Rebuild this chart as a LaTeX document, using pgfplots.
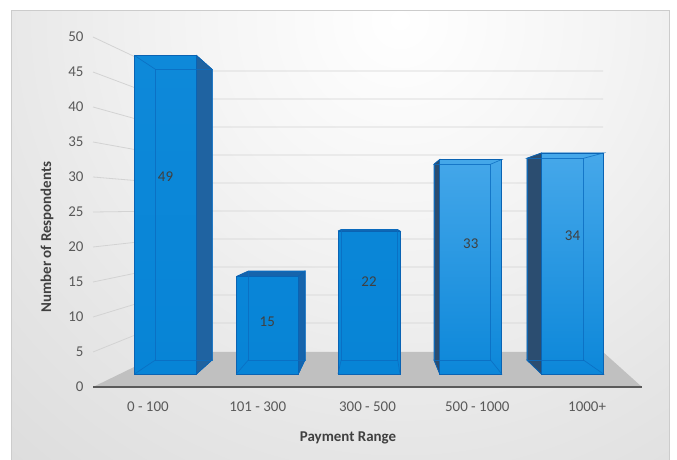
\documentclass[border=0pt]{standalone}
\usepackage{fontspec}
\setmainfont{Carlito}
\usepackage{pgfplots}
\pgfplotsset{compat=1.18}
\definecolor{bgin}{HTML}{F5F5F5}
\definecolor{bgmid}{HTML}{E7E7E7}
\definecolor{bgout1}{HTML}{DBDBDB}
\definecolor{bgout2}{HTML}{D0D0D0}
\definecolor{bordergray}{HTML}{CCCCCC}
\definecolor{floorgray}{HTML}{C0C0C0}
\definecolor{gridc}{HTML}{D3D3D3}
\definecolor{axisc}{HTML}{5A5A5A}
\definecolor{tickc}{HTML}{595959}
\definecolor{titlec}{HTML}{404040}
\definecolor{edgec}{HTML}{0A63B3}
\definecolor{backedge}{HTML}{0B6CC0}
\definecolor{barA}{HTML}{0784D6}
\definecolor{barAtop}{HTML}{0E89D9}
\definecolor{barBtop}{HTML}{46A8EA}
\definecolor{barBbot}{HTML}{0C87D9}
\definecolor{sideA}{HTML}{1F63A1}
\definecolor{sideB}{HTML}{1664AC}
\definecolor{sideC}{HTML}{2B4D70}
\pgfdeclareradialshading{bgshade}{\pgfpoint{0bp}{0bp}}{color(0bp)=(white); color(8bp)=(bgin); color(17bp)=(bgmid); color(26bp)=(bgout1); color(35bp)=(bgout2); color(50bp)=(bgout2)}
\newcommand\cf{\fontsize{15}{18}\selectfont}
\begin{document}
\begin{tikzpicture}
\path[use as bounding box, fill=white] (0bp,0bp) rectangle (677bp,460bp);
\begin{scope}
\clip (11bp,0bp) rectangle (669bp,449bp);
\shade[shading=bgshade] (400bp,440bp) circle (600bp);
\end{scope}
\draw[bordergray, line width=1bp] (11bp,-2bp) -- (11bp,449bp) -- (669bp,449bp) -- (669bp,-2bp);

% main axis: ticks, floor, perspective gridlines
\begin{axis}[
  at={(93bp,73bp)}, anchor=south west, scale only axis,
  width=549bp, height=350bp,
  xmin=-0.5, xmax=4.5, ymin=0, ymax=50,
  axis line style={draw=none}, clip=false,
  ytick={0,5,...,50}, xtick={0,1,2,3,4},
  xticklabels={0 - 100, 101 - 300, 300 - 500, 500 - 1000, 1000+},
  major tick length=0pt, tick style={draw=none},
  /pgf/number format/assume math mode=true,
  yticklabel style={font=\cf, text=tickc, anchor=east, xshift=-6bp},
  xticklabel style={font=\cf, text=tickc, anchor=center, yshift=-20bp},
]
\addplot[fill=floorgray, draw=none] coordinates {(-0.5,0) (4.5,0) (4.145,5) (0.1557,5) (-0.5,0)};
\addplot[gridc, line width=0.8bp] coordinates {(-0.5,5) (0.1557,9.143) (4.145,9.143)};
\addplot[gridc, line width=0.8bp] coordinates {(-0.5,10) (0.1557,13.143) (4.145,13.143)};
\addplot[gridc, line width=0.8bp] coordinates {(-0.5,15) (0.1557,17.143) (4.145,17.143)};
\addplot[gridc, line width=0.8bp] coordinates {(-0.5,20) (0.1557,21.143) (4.145,21.143)};
\addplot[gridc, line width=0.8bp] coordinates {(-0.5,25) (0.1557,25.143) (4.145,25.143)};
\addplot[gridc, line width=0.8bp] coordinates {(-0.5,30) (0.1557,29.143) (4.145,29.143)};
\addplot[gridc, line width=0.8bp] coordinates {(-0.5,35) (0.1557,33.143) (4.145,33.143)};
\addplot[gridc, line width=0.8bp] coordinates {(-0.5,40) (0.1557,37.143) (4.145,37.143)};
\addplot[gridc, line width=0.8bp] coordinates {(-0.5,45) (0.1557,41.143) (4.145,41.143)};
\addplot[gridc, line width=0.8bp] coordinates {(-0.5,50) (0.1557,45.143) (4.145,45.143)};
\addplot[axisc, line width=2.2bp] coordinates {(-0.5,0) (4.5,0)};
\end{axis}

% bar axis: 3D-looking bars
\begin{axis}[
  at={(93bp,73bp)}, anchor=south west, scale only axis,
  width=549bp, height=350bp,
  xmin=-0.7125, xmax=4.683, ymin=-2, ymax=51.846,
  hide axis, clip=false, unbounded coords=jump,
]
% top and bottom faces
\addplot[fill=barA, draw=edgec, line width=0.7bp] coordinates {(-0.3045,49) (0.3045,49) (0.4572,46.87) (-0.0986,46.87) (-0.3045,49)};
\addplot[fill=barA, draw=edgec, line width=0.7bp] coordinates {(-0.3045,0) (0.3045,0) (0.4572,2.154) (-0.0986,2.154) (-0.3045,0)};
\addplot[fill=sideB, draw=edgec, line width=0.7bp] coordinates {(0.6955,15) (1.3045,15) (1.3697,15.84) (0.8140,15.84) (0.6955,15)};
\addplot[fill=barA, draw=edgec, line width=0.7bp] coordinates {(0.6955,0) (1.3045,0) (1.3697,2.154) (0.8140,2.154) (0.6955,0)};
\addplot[fill=sideB, draw=edgec, line width=0.7bp] coordinates {(1.6955,22) (2.3045,22) (2.2822,22.23) (1.7264,22.23) (1.6955,22)};
\addplot[fill=barBtop, draw=edgec, line width=0.7bp] coordinates {(2.6955,33) (3.3045,33) (3.1947,32.27) (2.6389,32.27) (2.6955,33)};
\addplot[fill=barBbot, draw=edgec, line width=0.7bp] coordinates {(2.6955,0) (3.3045,0) (3.1947,2.154) (2.6389,2.154) (2.6955,0)};
\addplot[fill=barBtop, draw=edgec, line width=0.7bp] coordinates {(3.6955,34) (4.3045,34) (4.1072,33.18) (3.5514,33.18) (3.6955,34)};
\addplot[fill=barBbot, draw=edgec, line width=0.7bp] coordinates {(3.6955,0) (4.3045,0) (4.1072,2.154) (3.5514,2.154) (3.6955,0)};
% dark side faces
\addplot[fill=sideA, draw=edgec, line width=0.7bp] coordinates {(0.3045,0) (0.3045,49) (0.4572,46.87) (0.4572,2.154) (0.3045,0)};
\addplot[fill=sideB, draw=edgec, line width=0.7bp] coordinates {(1.3045,0) (1.3045,15) (1.3697,15.84) (1.3697,2.154) (1.3045,0)};
\addplot[fill=sideC, draw=edgec, line width=0.7bp] coordinates {(2.6955,0) (2.6955,33) (2.6389,32.27) (2.6389,2.154) (2.6955,0)};
\addplot[fill=sideC, draw=edgec, line width=0.7bp] coordinates {(3.6955,0) (3.6955,34) (3.5514,33.18) (3.5514,2.154) (3.6955,0)};
% front faces (data)
\addplot[ybar, bar width=0.609, bar shift=0pt, draw=edgec, line width=0.9bp, top color=barAtop, bottom color=barA] coordinates {(0,49) (1,15) (2,22)};
\addplot[ybar, bar width=0.609, bar shift=0pt, draw=edgec, line width=0.9bp, top color=barBtop, bottom color=barBbot] coordinates {(3,33) (4,34)};
% back edges seen through the front
\addplot[backedge, line width=0.7bp, opacity=0.8] coordinates {(-0.0986,2.154) (-0.0986,46.87) (0.4572,46.87) (0.4572,2.154) (-0.0986,2.154)};
\addplot[backedge, line width=0.7bp, opacity=0.8] coordinates {(0.8140,2.154) (0.8140,15.84) (1.3697,15.84) (1.3697,2.154) (0.8140,2.154)};
\addplot[backedge, line width=0.7bp, opacity=0.8] coordinates {(1.7264,2.154) (1.7264,22.23) (2.2822,22.23) (2.2822,2.154) (1.7264,2.154)};
\addplot[backedge, line width=0.7bp, opacity=0.8] coordinates {(2.6389,2.154) (2.6389,32.27) (3.1947,32.27) (3.1947,2.154) (2.6389,2.154)};
\addplot[backedge, line width=0.7bp, opacity=0.8] coordinates {(3.5514,2.154) (3.5514,33.18) (4.1072,33.18) (4.1072,2.154) (3.5514,2.154)};
\addplot[backedge, line width=0.7bp, opacity=0.8] coordinates {(-0.3045,49) (-0.0986,46.87) (nan,nan) (-0.3045,0) (-0.0986,2.154) (nan,nan) (0.6955,0) (0.8140,2.154) (nan,nan) (1.3045,0) (1.3697,2.154) (nan,nan) (1.6955,0) (1.7264,2.154) (nan,nan) (2.3045,0) (2.2822,2.154) (nan,nan) (3.3045,0) (3.1947,2.154) (nan,nan) (3.3045,33) (3.1947,32.27) (nan,nan) (4.3045,0) (4.1072,2.154) (nan,nan) (4.3045,34) (4.1072,33.18)};
% data labels
\addplot[draw=none, mark=none, nodes near coords, point meta=explicit symbolic,
  every node near coord/.append style={anchor=center, font=\cf, text=titlec}]
  coordinates {(0,30.3)[49] (1,8)[15] (2,14.2)[22] (3,20)[33] (4,21.2)[34]};
\end{axis}

\node[font=\cf\bfseries, text=titlec] at (348bp,22bp) {Payment Range};
\node[font=\cf\bfseries, text=titlec, rotate=90] at (47bp,223bp) {Number of Respondents};
\end{tikzpicture}
\end{document}
